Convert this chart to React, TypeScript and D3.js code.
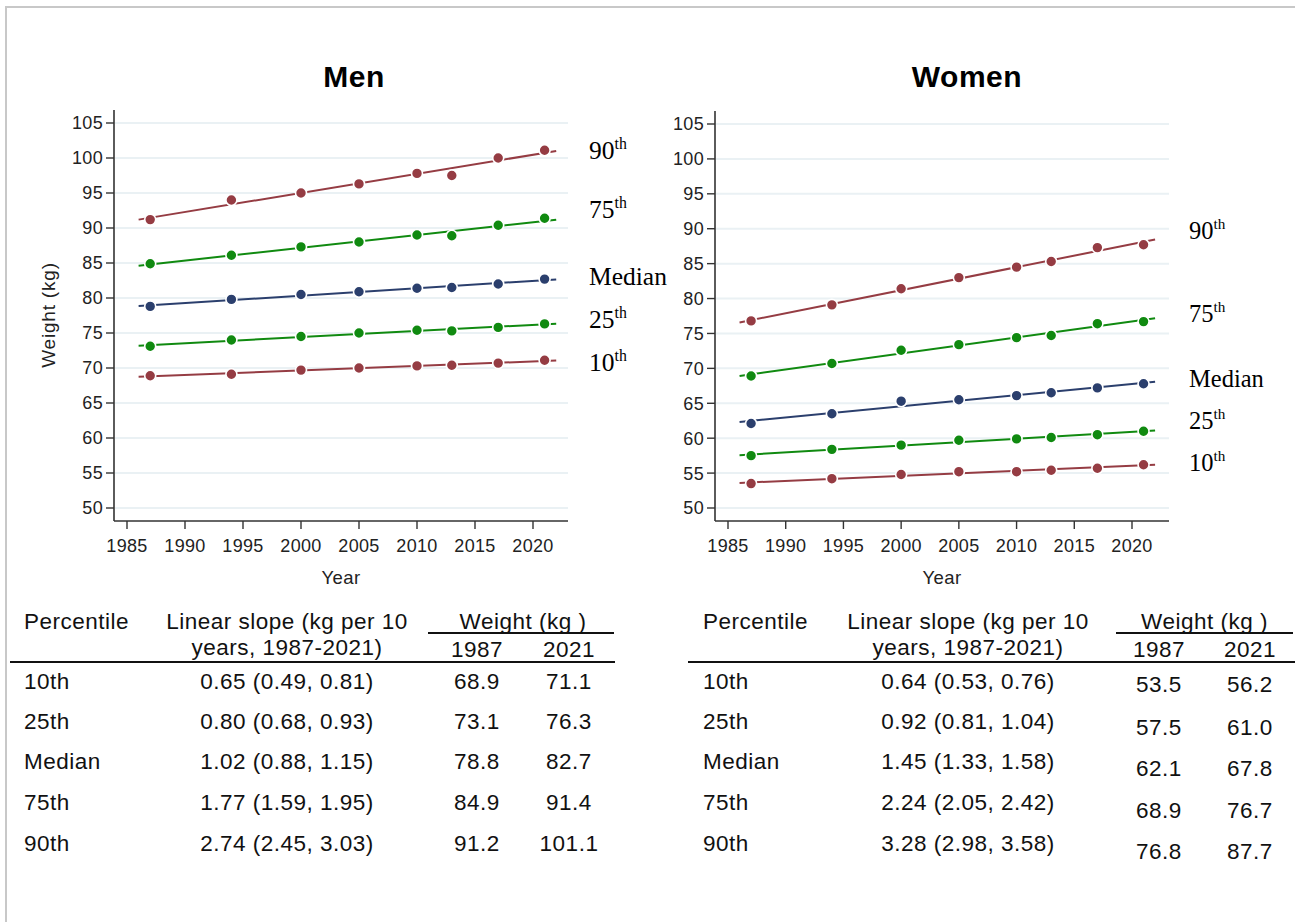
import React from "react";
import * as d3 from "d3";

const years = [1987, 1994, 2000, 2005, 2010, 2013, 2017, 2021];
const percentiles = ["90th", "75th", "Median", "25th", "10th"];

const men90 = [91.2, 94.0, 95.0, 96.3, 97.8, 97.5, 100.0, 101.1];
const men75 = [84.9, 86.1, 87.3, 88.0, 89.0, 88.9, 90.4, 91.4];
const menMed = [78.8, 79.8, 80.5, 80.9, 81.4, 81.5, 82.0, 82.7];
const men25 = [73.1, 74.0, 74.5, 75.0, 75.4, 75.3, 75.8, 76.3];
const men10 = [68.9, 69.1, 69.7, 70.0, 70.3, 70.4, 70.7, 71.1];

const women90 = [76.8, 79.1, 81.4, 83.0, 84.5, 85.3, 87.3, 87.7];
const women75 = [68.9, 70.7, 72.6, 73.4, 74.4, 74.7, 76.4, 76.7];
const womenMed = [62.1, 63.5, 65.3, 65.5, 66.1, 66.5, 67.2, 67.8];
const women25 = [57.5, 58.4, 59.0, 59.7, 59.9, 60.1, 60.5, 61.0];
const women10 = [53.5, 54.2, 54.8, 55.2, 55.2, 55.4, 55.7, 56.2];

const yTicks = [50, 55, 60, 65, 70, 75, 80, 85, 90, 95, 100, 105];
const xTicks = [1985, 1990, 1995, 2000, 2005, 2010, 2015, 2020];
const fitRange = [1986, 2022];

const tableRows = ["10th", "25th", "Median", "75th", "90th"];
const menSlopes = ["0.65 (0.49, 0.81)", "0.80 (0.68, 0.93)", "1.02 (0.88, 1.15)", "1.77 (1.59, 1.95)", "2.74 (2.45, 3.03)"];
const men1987 = ["68.9", "73.1", "78.8", "84.9", "91.2"];
const men2021 = ["71.1", "76.3", "82.7", "91.4", "101.1"];
const womenSlopes = ["0.64 (0.53, 0.76)", "0.92 (0.81, 1.04)", "1.45 (1.33, 1.58)", "2.24 (2.05, 2.42)", "3.28 (2.98, 3.58)"];
const women1987 = ["53.5", "57.5", "62.1", "68.9", "76.8"];
const women2021 = ["56.2", "61.0", "67.8", "76.7", "87.7"];

const RED = "#953c43";
const GREEN = "#108a10";
const NAVY = "#2b3f6d";
const seriesColors = [RED, GREEN, NAVY, GREEN, RED];
const SANS = "'Liberation Sans', Arial, sans-serif";
const SERIF = "'Liberation Serif', 'Times New Roman', serif";

function fit(xs: number[], ys: number[]) {
  const mx = d3.mean(xs)!;
  const my = d3.mean(ys)!;
  const num = d3.sum(xs.map((x, i) => (x - mx) * (ys[i] - my)));
  const den = d3.sum(xs.map((x) => (x - mx) * (x - mx)));
  const b = num / den;
  return (x: number) => my + b * (x - mx);
}

type PanelProps = {
  title: string;
  series: number[][];
  xRange: [number, number];
  yRange: [number, number];
  axisX: number;
  axisTop: number;
  axisBottom: number;
  plotRight: number;
  titleX: number;
  labelX: number;
  labelYs: number[];
  labelSize: number;
  showYTitle: boolean;
};

const tickFont = { fontFamily: SANS, fontSize: 18, letterSpacing: 0.35, fill: "#222" };

function Panel(p: PanelProps) {
  const x = d3.scaleLinear().domain([1985, 2020]).range(p.xRange);
  const y = d3.scaleLinear().domain([50, 105]).range(p.yRange);
  const line = d3.line<[number, number]>().x((d) => x(d[0])).y((d) => y(d[1]));
  return (
    <g>
      <text x={p.titleX} y={87} textAnchor="middle" fontFamily={SANS} fontWeight="bold" fontSize={30} letterSpacing={0.5} fill="#000">
        {p.title}
      </text>
      {yTicks.map((t) => (
        <line key={"g" + t} x1={p.axisX + 1} x2={p.plotRight} y1={y(t)} y2={y(t)} stroke="#eaf1f4" strokeWidth={2} />
      ))}
      <line x1={p.axisX} x2={p.axisX} y1={p.axisTop} y2={p.axisBottom} stroke="#333" strokeWidth={1.6} />
      <line x1={p.axisX} x2={p.plotRight} y1={p.axisBottom} y2={p.axisBottom} stroke="#333" strokeWidth={1.6} />
      {yTicks.map((t) => (
        <g key={"y" + t}>
          <line x1={p.axisX - 8} x2={p.axisX} y1={y(t)} y2={y(t)} stroke="#333" strokeWidth={1.4} />
          <text x={p.axisX - 11} y={y(t)} dy="0.36em" textAnchor="end" {...tickFont}>
            {t}
          </text>
        </g>
      ))}
      {xTicks.map((t) => (
        <g key={"x" + t}>
          <line x1={x(t)} x2={x(t)} y1={p.axisBottom} y2={p.axisBottom + 8} stroke="#333" strokeWidth={1.4} />
          <text x={x(t)} y={p.axisBottom + 25} dy="0.36em" textAnchor="middle" {...tickFont}>
            {t}
          </text>
        </g>
      ))}
      <text x={(p.axisX + p.plotRight) / 2} y={577} dy="0.36em" textAnchor="middle" {...tickFont} fontSize={18.5}>
        Year
      </text>
      {p.showYTitle && (
        <text
          transform={`translate(48, ${315}) rotate(-90)`}
          textAnchor="middle"
          dy="0.36em"
          {...tickFont}
          fontSize={19}
          letterSpacing={0.8}
        >
          Weight (kg)
        </text>
      )}
      {p.series.map((s, i) => {
        const f = fit(years, s);
        return (
          <g key={"s" + i}>
            <path d={line(fitRange.map((yr) => [yr, f(yr)] as [number, number]))!} stroke={seriesColors[i]} strokeWidth={2} fill="none" />
            {s.map((v, j) => (
              <circle key={j} cx={x(years[j])} cy={y(v)} r={5.5} fill={seriesColors[i]} stroke="#fff" strokeWidth={1.6} />
            ))}
          </g>
        );
      })}
      {percentiles.map((lab, i) => {
        const isMed = lab === "Median";
        return (
          <text key={lab} x={p.labelX} y={p.labelYs[i]} dy="0.35em" fontFamily={SERIF} fontSize={p.labelSize} fill="#000">
            {isMed ? (
              lab
            ) : (
              <>
                {lab.slice(0, 2)}
                <tspan fontSize={p.labelSize * 0.62} dy={-p.labelSize * 0.38}>
                  th
                </tspan>
              </>
            )}
          </text>
        );
      })}
    </g>
  );
}

type TableProps = {
  left: number;
  right: number;
  labelX: number;
  slopeX: number;
  c1987: number;
  c2021: number;
  weightLineX: [number, number];
  slopes: string[];
  v1987: string[];
  v2021: string[];
  valueShift: number[];
};

const rowYs = [681, 721, 761, 802, 843];

function Table(t: TableProps) {
  const common = { fontFamily: SANS, fontSize: 22.5, letterSpacing: 0.5, fill: "#111", dy: "0.36em" };
  return (
    <g>
      <text x={t.labelX} y={621} {...common}>Percentile</text>
      <text x={t.slopeX} y={621} textAnchor="middle" {...common}>Linear slope (kg per 10</text>
      <text x={t.slopeX} y={647} textAnchor="middle" {...common}>years, 1987-2021)</text>
      <text x={(t.c1987 + t.c2021) / 2} y={621} textAnchor="middle" {...common}>Weight (kg )</text>
      <line x1={t.weightLineX[0]} x2={t.weightLineX[1]} y1={633} y2={633} stroke="#111" strokeWidth={2} />
      <text x={t.c1987} y={649} textAnchor="middle" {...common}>1987</text>
      <text x={t.c2021} y={649} textAnchor="middle" {...common}>2021</text>
      <line x1={t.left} x2={t.right} y1={662} y2={662} stroke="#111" strokeWidth={2.2} />
      {tableRows.map((r, i) => (
        <g key={r}>
          <text x={t.labelX} y={rowYs[i]} {...common}>{r}</text>
          <text x={t.slopeX} y={rowYs[i]} textAnchor="middle" {...common}>{t.slopes[i]}</text>
          <text x={t.c1987} y={rowYs[i] + t.valueShift[i]} textAnchor="middle" {...common}>{t.v1987[i]}</text>
          <text x={t.c2021} y={rowYs[i] + t.valueShift[i]} textAnchor="middle" {...common}>{t.v2021[i]}</text>
        </g>
      ))}
    </g>
  );
}

export default function App() {
  return (
    <div style={{ position: "absolute", left: 0, top: 0 }}>
      <svg width={1295} height={922} style={{ display: "block", background: "#fff" }}>
        <rect x={6} y={7} width={1300} height={1000} fill="none" stroke="#c8c8c8" strokeWidth={2} />
        <Panel
          title="Men"
          series={[men90, men75, menMed, men25, men10]}
          xRange={[127, 533]}
          yRange={[508, 123]}
          axisX={114}
          axisTop={110}
          axisBottom={521}
          plotRight={568}
          titleX={354}
          labelX={589}
          labelYs={[150, 209, 276, 319, 362]}
          labelSize={25.5}
          showYTitle={true}
        />
        <Panel
          title="Women"
          series={[women90, women75, womenMed, women25, women10]}
          xRange={[728, 1132]}
          yRange={[508, 124]}
          axisX={715}
          axisTop={111}
          axisBottom={521}
          plotRight={1169}
          titleX={967}
          labelX={1189}
          labelYs={[230, 313, 378, 420, 462]}
          labelSize={24.5}
          showYTitle={false}
        />
        <Table
          left={10}
          right={615}
          labelX={24}
          slopeX={287}
          c1987={477}
          c2021={569}
          weightLineX={[428, 614]}
          slopes={menSlopes}
          v1987={men1987}
          v2021={men2021}
          valueShift={[0, 0, 0, 0, 0]}
        />
        <Table
          left={688}
          right={1295}
          labelX={703}
          slopeX={968}
          c1987={1159}
          c2021={1250}
          weightLineX={[1116, 1293]}
          slopes={womenSlopes}
          v1987={women1987}
          v2021={women2021}
          valueShift={[3, 6, 7, 8, 8]}
        />
      </svg>
    </div>
  );
}
